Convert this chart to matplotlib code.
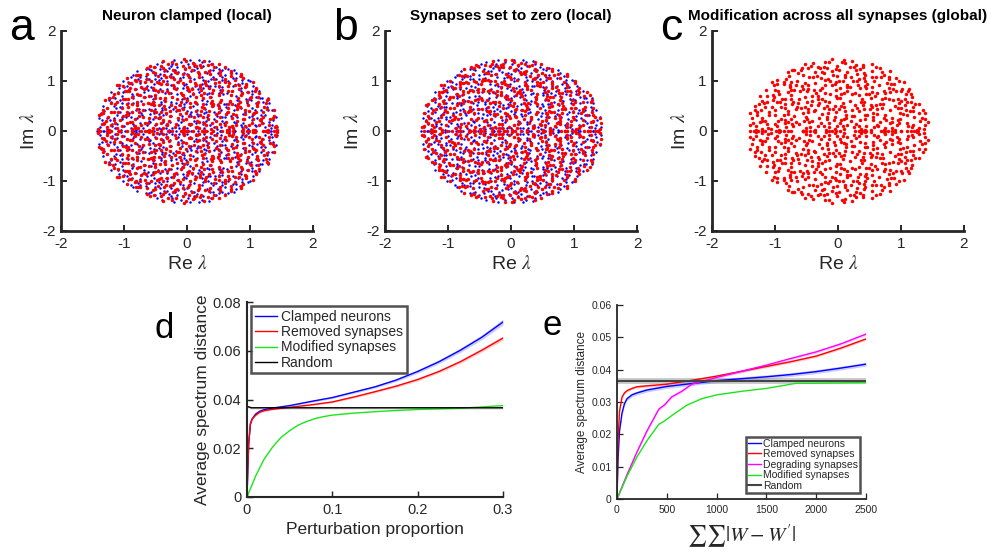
import numpy as np
import matplotlib
matplotlib.use("Agg")
import matplotlib.pyplot as plt

plt.rcParams['font.family'] = ['Liberation Sans', 'DejaVu Sans']
plt.rcParams['mathtext.fontset'] = 'stix'
plt.rcParams['axes.unicode_minus'] = False

# ---- eigenvalue clouds (a-c): too many points to read one by one, so the
# cloud is laid out with a deterministic low-discrepancy (Halton) pattern
SPECTRAL_RADIUS = 1.45
N_PAIRS = 380      # complex-conjugate pairs per set
N_REAL = 30        # eigenvalues on the real axis per set

# ---- panel d
d_x = [0, 0.001, 0.002, 0.004, 0.006, 0.01, 0.015, 0.02, 0.03, 0.05, 0.075,
       0.1, 0.125, 0.15, 0.175, 0.2, 0.225, 0.25, 0.275, 0.3]
d_clamped = [0, 0.012, 0.022, 0.030, 0.032, 0.034, 0.0352, 0.0358, 0.0365, 0.0375,
             0.0392, 0.0408, 0.043, 0.0452, 0.048, 0.0515, 0.0555, 0.0602, 0.0655, 0.0718]
d_removed = [0, 0.012, 0.022, 0.030, 0.032, 0.0335, 0.0348, 0.0354, 0.036, 0.0368,
             0.0378, 0.039, 0.041, 0.0432, 0.0455, 0.0482, 0.0515, 0.0555, 0.0602, 0.0652]
d_clamped_err = [0, 0.0003, 0.0003, 0.0003, 0.0003, 0.0003, 0.0003, 0.0003, 0.0003, 0.0003,
                 0.0004, 0.0004, 0.0005, 0.0005, 0.0006, 0.0007, 0.0008, 0.0009, 0.001, 0.0012]
d_removed_err = [0, 0.0003, 0.0003, 0.0003, 0.0003, 0.0003, 0.0003, 0.0003, 0.0003, 0.0003,
                 0.0003, 0.0004, 0.0004, 0.0005, 0.0005, 0.0006, 0.0006, 0.0007, 0.0008, 0.0009]
d_mod_x = [0, 0.01, 0.02, 0.03, 0.04, 0.05, 0.06, 0.07, 0.08, 0.09, 0.1, 0.125,
           0.15, 0.175, 0.2, 0.25, 0.3]
d_modified = [0, 0.0085, 0.0155, 0.0205, 0.0245, 0.0272, 0.0295, 0.031, 0.0322, 0.033,
              0.0336, 0.0344, 0.035, 0.0355, 0.0359, 0.0364, 0.0375]
d_rand_x = [0, 0.005, 0.3]
d_random = [0.0372, 0.0366, 0.0366]

# ---- panel e
e_x = [0, 10, 25, 50, 75, 100, 150, 200, 300, 500, 750, 1000, 1250, 1500, 1750,
       2000, 2250, 2500]
e_clamped = [0, 0.012, 0.021, 0.0265, 0.0295, 0.031, 0.0322, 0.0328, 0.0337, 0.0348,
             0.0357, 0.0366, 0.0372, 0.0378, 0.0385, 0.0394, 0.0405, 0.0417]
e_removed = [0, 0.018, 0.027, 0.0315, 0.0328, 0.0335, 0.0342, 0.0347, 0.035, 0.0355,
             0.0367, 0.038, 0.0395, 0.041, 0.0425, 0.0442, 0.0467, 0.0495]
e_deg_x = [0, 100, 200, 300, 420, 480, 550, 650, 750, 1000, 1250, 1500, 1750, 2000,
           2250, 2500]
e_degrading = [0, 0.0075, 0.0145, 0.021, 0.0278, 0.0292, 0.0316, 0.0333, 0.0355, 0.0376,
               0.0395, 0.0414, 0.0435, 0.0455, 0.048, 0.051]
e_mod_x = [0, 100, 200, 300, 420, 480, 550, 700, 850, 1000, 1250, 1500, 1800, 2000, 2500]
e_modified = [0, 0.007, 0.013, 0.018, 0.0231, 0.0242, 0.0258, 0.029, 0.031, 0.0322,
              0.0333, 0.0342, 0.0358, 0.0358, 0.036]
e_rand_x = [0, 2500]
e_random = [0.0365, 0.0365]

TXT = '#262626'
BLUE, RED, GREEN, MAG = '#0000ff', '#ff0000', '#19e619', '#ff00ff'


def halton(i, b):
    f, r = 1.0, 0.0
    while i > 0:
        f /= b
        r += f * (i % b)
        i //= b
    return r


def spectrum(b1, b2, b3, start):
    re, im = [], []
    for k in range(start, start + N_PAIRS):
        r = SPECTRAL_RADIUS * np.sqrt(halton(k, b1))
        t = np.pi * halton(k, b2)
        re += [r * np.cos(t), r * np.cos(t)]
        im += [r * np.sin(t), -r * np.sin(t)]
    for k in range(start, start + N_REAL):
        re.append(SPECTRAL_RADIUS * (2 * halton(k, b3) - 1))
        im.append(0.0)
    return np.array(re), np.array(im)


def style(ax, lw=2.0, fs=10.5):
    for s in ['top', 'right']:
        ax.spines[s].set_visible(False)
    for s in ['left', 'bottom']:
        ax.spines[s].set_linewidth(lw)
        ax.spines[s].set_color(TXT)
    ax.tick_params(direction='in', width=lw * 0.7, length=4, colors=TXT,
                   labelsize=fs, pad=4)


W, H = 995, 555
fig = plt.figure(figsize=(W / 100, H / 100), dpi=100)


def box(l, t, w, h):
    return [l / W, (H - t - h) / H, w / W, h / H]


titles = ['Neuron clamped (local)', 'Synapses set to zero (local)',
          'Modification across all synapses (global)']
letters = ['a', 'b', 'c']
lefts = [61, 385, 712]
blue_re, blue_im = spectrum(2, 3, 5, 1)
red_sets = [spectrum(5, 7, 3, 40), spectrum(7, 11, 2, 90), spectrum(3, 2, 7, 7)]
for i in range(3):
    ax = fig.add_axes(box(lefts[i], 31, 252, 200))
    if i < 2:
        ax.plot(blue_re, blue_im, 'o', color=BLUE, ms=1.8, mew=0)
    ax.plot(red_sets[i][0], red_sets[i][1], 'o', color=RED, ms=2.5, mew=0)
    ax.set_xlim(-2, 2)
    ax.set_ylim(-2, 2)
    ax.set_xticks([-2, -1, 0, 1, 2])
    ax.set_yticks([-2, -1, 0, 1, 2])
    style(ax, fs=11)
    ax.set_xlabel(r'Re $\lambda$', fontsize=14, color=TXT, labelpad=3)
    ax.set_ylabel(r'Im $\lambda$', fontsize=14, color=TXT, labelpad=3)
    ax.set_title(titles[i], fontsize=11, fontweight='bold', pad=8)
    fig.text((lefts[i] - 52) / W, 1 - 40 / H, letters[i], fontsize=32)

# ---- d
ax = fig.add_axes(box(247, 302, 256, 195))
ax.fill_between(d_x, np.array(d_clamped) - d_clamped_err, np.array(d_clamped) + d_clamped_err,
                color=BLUE, alpha=0.2, lw=0)
ax.fill_between(d_x, np.array(d_removed) - d_removed_err, np.array(d_removed) + d_removed_err,
                color=RED, alpha=0.2, lw=0)
ax.fill_between(d_rand_x, np.array(d_random) - 0.0005, np.array(d_random) + 0.0005,
                color='grey', alpha=0.35, lw=0)
ax.plot(d_x, d_clamped, color=BLUE, lw=1, label='Clamped neurons')
ax.plot(d_x, d_removed, color=RED, lw=1, label='Removed synapses')
ax.plot(d_mod_x, d_modified, color=GREEN, lw=1, label='Modified synapses')
ax.plot(d_rand_x, d_random, color='black', lw=1, label='Random')
ax.set_xlim(0, 0.3)
ax.set_ylim(0, 0.08)
ax.set_xticks([0, 0.1, 0.2, 0.3])
ax.set_xticklabels(['0', '0.1', '0.2', '0.3'])
ax.set_yticks([0, 0.02, 0.04, 0.06, 0.08])
ax.set_yticklabels(['0', '0.02', '0.04', '0.06', '0.08'])
style(ax, lw=1.5, fs=10.5)
ax.set_xlabel('Perturbation proportion', fontsize=12.5, color=TXT)
ax.set_ylabel('Average spectrum distance', fontsize=12.5, color=TXT, labelpad=2)
leg = ax.legend(loc='upper left', fontsize=10, frameon=True, fancybox=False,
                borderaxespad=0.3, handlelength=1.6, handletextpad=0.3,
                labelspacing=0.1, borderpad=0.25)
leg.get_frame().set_edgecolor(TXT)
leg.get_frame().set_linewidth(1.8)
for t in leg.get_texts():
    t.set_color(TXT)
fig.text(155 / W, 1 - 338 / H, 'd', fontsize=25)

# ---- e
ax = fig.add_axes(box(617, 305, 249, 194))
ax.fill_between(e_x, np.array(e_clamped) - 0.0006, np.array(e_clamped) + 0.0006,
                color=BLUE, alpha=0.2, lw=0)
ax.fill_between(e_x, np.array(e_removed) - 0.0004, np.array(e_removed) + 0.0004,
                color=RED, alpha=0.2, lw=0)
ax.fill_between(e_deg_x, np.array(e_degrading) - 0.0004, np.array(e_degrading) + 0.0004,
                color=MAG, alpha=0.2, lw=0)
ax.fill_between(e_rand_x, np.array(e_random) - 0.0008, np.array(e_random) + 0.0008,
                color='grey', alpha=0.4, lw=0)
ax.plot(e_x, e_clamped, color=BLUE, lw=1, label='Clamped neurons')
ax.plot(e_x, e_removed, color=RED, lw=1, label='Removed synapses')
ax.plot(e_deg_x, e_degrading, color=MAG, lw=1, label='Degrading synapses')
ax.plot(e_mod_x, e_modified, color=GREEN, lw=1, label='Modified synapses')
ax.plot(e_rand_x, e_random, color='#444444', lw=1.5, label='Random')
ax.set_xlim(0, 2500)
ax.set_ylim(0, 0.06)
ax.set_xticks([0, 500, 1000, 1500, 2000, 2500])
ax.set_yticks([0, 0.01, 0.02, 0.03, 0.04, 0.05, 0.06])
ax.set_yticklabels(['0', '0.01', '0.02', '0.03', '0.04', '0.05', '0.06'])
style(ax, lw=1.3, fs=7.5)
ax.set_xlabel(r"$\sum\sum|W-W'|$", fontsize=15, color=TXT, labelpad=6)
ax.set_ylabel('Average spectrum distance', fontsize=8.5, color=TXT, labelpad=2)
leg = ax.legend(loc='lower right', fontsize=7.5, frameon=True, fancybox=False,
                borderaxespad=0.6, handlelength=1.2, handletextpad=0.2,
                labelspacing=0.05, borderpad=0.2)
leg.get_frame().set_edgecolor(TXT)
leg.get_frame().set_linewidth(1.8)
for t in leg.get_texts():
    t.set_color(TXT)
fig.text(543 / W, 1 - 335 / H, 'e', fontsize=25)

fig.savefig('out.png', dpi=100)
